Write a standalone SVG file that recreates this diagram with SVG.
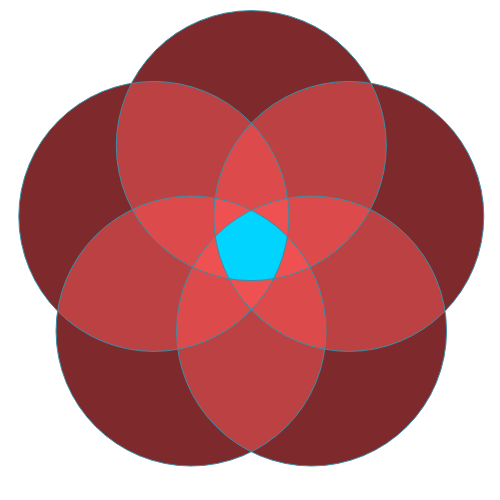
<svg xmlns="http://www.w3.org/2000/svg" xmlns:xlink="http://www.w3.org/1999/xlink" width="500" height="500" viewBox="0 0 500 500">
<style>
.l1{fill:#7e292c}
.l2{fill:#bc4142}
.l3{fill:#dd4a4b}
.l4{fill:#ef5152}
.l5{fill:#00d4ff}
.edge{fill:none;stroke:#3a8ea5;stroke-width:1}
</style>
<defs>
<circle id="c0" cx="251.3" cy="145.6" r="135"/>
<circle id="c1" cx="348.78" cy="216.43" r="135"/>
<circle id="c2" cx="311.55" cy="331.02" r="135"/>
<circle id="c3" cx="191.05" cy="331.02" r="135"/>
<circle id="c4" cx="153.82" cy="216.43" r="135"/>
<clipPath id="k0"><use xlink:href="#c0"/></clipPath>
<clipPath id="k1"><use xlink:href="#c1"/></clipPath>
<clipPath id="k2"><use xlink:href="#c2"/></clipPath>
<clipPath id="k3"><use xlink:href="#c3"/></clipPath>
<clipPath id="k4"><use xlink:href="#c4"/></clipPath>
</defs>
<g id="singles" class="l1">
<use xlink:href="#c0"/><use xlink:href="#c1"/><use xlink:href="#c2"/><use xlink:href="#c3"/><use xlink:href="#c4"/>
</g>
<g id="pairs" class="l2">
<g clip-path="url(#k0)"><use xlink:href="#c1"/><use xlink:href="#c2"/><use xlink:href="#c3"/><use xlink:href="#c4"/></g>
<g clip-path="url(#k1)"><use xlink:href="#c2"/><use xlink:href="#c3"/><use xlink:href="#c4"/></g>
<g clip-path="url(#k2)"><use xlink:href="#c3"/><use xlink:href="#c4"/></g>
<g clip-path="url(#k3)"><use xlink:href="#c4"/></g>
</g>
<g id="triples" class="l3">
<g clip-path="url(#k0)">
<g clip-path="url(#k1)"><use xlink:href="#c2"/><use xlink:href="#c3"/><use xlink:href="#c4"/></g>
<g clip-path="url(#k2)"><use xlink:href="#c3"/><use xlink:href="#c4"/></g>
<g clip-path="url(#k3)"><use xlink:href="#c4"/></g>
</g>
<g clip-path="url(#k1)">
<g clip-path="url(#k2)"><use xlink:href="#c3"/><use xlink:href="#c4"/></g>
<g clip-path="url(#k3)"><use xlink:href="#c4"/></g>
</g>
<g clip-path="url(#k2)">
<g clip-path="url(#k3)"><use xlink:href="#c4"/></g>
</g>
</g>
<g id="quads" class="l4">
<g clip-path="url(#k0)"><g clip-path="url(#k1)">
<g clip-path="url(#k2)"><use xlink:href="#c3"/><use xlink:href="#c4"/></g>
<g clip-path="url(#k3)"><use xlink:href="#c4"/></g>
</g>
<g clip-path="url(#k2)"><g clip-path="url(#k3)"><use xlink:href="#c4"/></g></g>
</g>
<g clip-path="url(#k1)"><g clip-path="url(#k2)"><g clip-path="url(#k3)"><use xlink:href="#c4"/></g></g></g>
</g>
<g id="all-five" class="l5">
<g clip-path="url(#k0)"><g clip-path="url(#k1)"><g clip-path="url(#k2)"><g clip-path="url(#k3)"><use xlink:href="#c4"/></g></g></g></g>
</g>
<g id="outlines" class="edge">
<use xlink:href="#c0"/><use xlink:href="#c1"/><use xlink:href="#c2"/><use xlink:href="#c3"/><use xlink:href="#c4"/>
</g>
</svg>
